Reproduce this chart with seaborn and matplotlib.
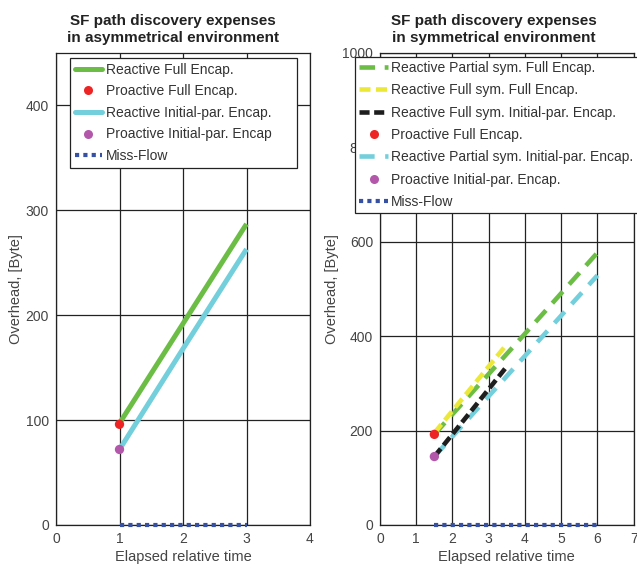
import matplotlib
matplotlib.use("Agg")
import matplotlib.pyplot as plt
import seaborn as sns
import pandas as pd
from matplotlib.lines import Line2D

sns.set_theme(style="white")
plt.rcParams['font.family'] = ['Liberation Sans', 'DejaVu Sans']

# ---------------- data: asymmetrical environment ----------------
asym_time = [1, 2, 3]
asym_reactive_full = [97, 192, 287]
asym_reactive_init = [72, 168, 263]
asym_proactive_time = [1]
asym_proactive_full = [96]
asym_proactive_init = [72]
asym_missflow_time = [1, 3]
asym_missflow = [0, 0]

# ---------------- data: symmetrical environment ----------------
sym_partial_time = [1.5, 3, 4.5, 6]
sym_partial_full = [192, 320, 448, 577]
sym_partial_init = [145, 273, 401, 529]
sym_full_time = [1.5, 2.5, 3.5]
sym_full_full = [195, 289, 383]
sym_full_init = [145, 240, 336]
sym_proactive_time = [1.5]
sym_proactive_full = [192]
sym_proactive_init = [145]
sym_missflow_time = [1.5, 6]
sym_missflow = [0, 0]

GREEN = "#6cbd45"
CYAN = "#72cfdb"
YELLOW = "#ece83a"
BLACK = "#1e1e1e"
RED = "#ee2424"
MAGENTA = "#b357ab"
BLUE = "#3650a3"
TICKC = "#444444"

fig = plt.figure(figsize=(6.37, 5.69), dpi=100)
ax1 = fig.add_axes([56/637, 1-525/569, 254/637, 472/569])
ax2 = fig.add_axes([380/637, 1-525/569, 253.7/637, 472/569])

LW = 3.3
dash_green = (0, (3.4, 2.1))
dash_cyan = (0, (3.3, 2.3))
dash_yellow = (0, (2.4, 1.2))
dash_black = (0, (2.2, 1.0))
dot_blue = (0, (1.0, 1.0))


def line(ax, x, y, color, ls, lw=LW, clip=True):
    df = pd.DataFrame({"x": x, "y": y})
    sns.lineplot(data=df, x="x", y="y", ax=ax, color=color, linewidth=lw,
                 linestyle=ls, solid_capstyle="butt", dash_capstyle="butt",
                 legend=False, zorder=3, clip_on=clip)


def pts(ax, x, y, color):
    df = pd.DataFrame({"x": x, "y": y})
    sns.scatterplot(data=df, x="x", y="y", ax=ax, color=color, s=45,
                    edgecolor="none", legend=False, zorder=4, clip_on=False)


# left panel
line(ax1, asym_time, asym_reactive_full, GREEN, "-", lw=3.6)
line(ax1, asym_time, asym_reactive_init, CYAN, "-", lw=3.6)
line(ax1, asym_missflow_time, asym_missflow, BLUE, dot_blue, lw=3.0, clip=False)
pts(ax1, asym_proactive_time, asym_proactive_full, RED)
pts(ax1, asym_proactive_time, asym_proactive_init, MAGENTA)

# right panel
line(ax2, sym_partial_time, sym_partial_full, GREEN, dash_green)
line(ax2, sym_partial_time, sym_partial_init, CYAN, dash_cyan)
line(ax2, sym_full_time, sym_full_full, YELLOW, dash_yellow)
line(ax2, sym_full_time, sym_full_init, BLACK, dash_black)
line(ax2, sym_missflow_time, sym_missflow, BLUE, dot_blue, lw=3.0, clip=False)
pts(ax2, sym_proactive_time, sym_proactive_full, RED)
pts(ax2, sym_proactive_time, sym_proactive_init, MAGENTA)

ax1.set_xlim(0, 4)
ax1.set_ylim(0, 450)
ax1.set_xticks([0, 1, 2, 3, 4])
ax1.set_yticks([0, 100, 200, 300, 400])
ax2.set_xlim(0, 7)
ax2.set_ylim(0, 1000)
ax2.set_xticks(range(8))
ax2.set_yticks([0, 200, 400, 600, 800, 1000])

panels = [(ax1, "SF path discovery expenses\nin asymmetrical environment", 0.46, -0.128),
          (ax2, "SF path discovery expenses\nin symmetrical environment", 0.45, -0.160)]
for ax, title, tx, lx in panels:
    ax.grid(True, color="#222222", linewidth=0.9)
    ax.set_axisbelow(True)
    for s in ax.spines.values():
        s.set_color("#222222")
        s.set_linewidth(0.9)
    ax.tick_params(axis="both", labelsize=10, colors=TICKC, length=0, pad=5)
    ax.set_xlabel("Elapsed relative time", fontsize=10.5, color=TICKC, labelpad=3)
    ax.set_ylabel("Overhead, [Byte]", fontsize=10.5, color=TICKC)
    ax.yaxis.set_label_coords(lx, 0.5)
    ax.set_title(title, fontsize=11, fontweight="bold", color="#222222",
                 pad=8, linespacing=1.25, x=tx)

# legends
h_left = [
    Line2D([], [], color=GREEN, lw=3.6),
    Line2D([], [], color=RED, marker="o", ls="none", markersize=6.5, markeredgewidth=0),
    Line2D([], [], color=CYAN, lw=3.6),
    Line2D([], [], color=MAGENTA, marker="o", ls="none", markersize=6.5, markeredgewidth=0),
    Line2D([], [], color=BLUE, lw=3.0, ls=dot_blue, dash_capstyle="butt"),
]
l_left = ["Reactive Full Encap.", "Proactive Full Encap.",
          "Reactive Initial-par. Encap.", "Proactive Initial-par. Encap",
          "Miss-Flow"]
leg1 = ax1.legend(h_left, l_left, loc="upper left", bbox_to_anchor=(0.055, 0.0, 0.894, 0.99),
                  mode="expand",
                  fontsize=10, frameon=True, fancybox=False, framealpha=1,
                  edgecolor="#222222", handlelength=1.95, handletextpad=0.3,
                  labelspacing=0.55, borderpad=0.35, borderaxespad=0)
leg1.get_frame().set_linewidth(0.9)
for t in leg1.get_texts():
    t.set_color("#333333")

h_right = [
    Line2D([], [], color=GREEN, lw=3.3, ls=dash_green, dash_capstyle="butt"),
    Line2D([], [], color=YELLOW, lw=3.3, ls=dash_yellow, dash_capstyle="butt"),
    Line2D([], [], color=BLACK, lw=3.3, ls=dash_black, dash_capstyle="butt"),
    Line2D([], [], color=RED, marker="o", ls="none", markersize=6.5, markeredgewidth=0),
    Line2D([], [], color=CYAN, lw=3.3, ls=dash_cyan, dash_capstyle="butt"),
    Line2D([], [], color=MAGENTA, marker="o", ls="none", markersize=6.5, markeredgewidth=0),
    Line2D([], [], color=BLUE, lw=3.0, ls=dot_blue, dash_capstyle="butt"),
]
l_right = ["Reactive Partial sym. Full Encap.", "Reactive Full sym. Full Encap.",
           "Reactive Full sym. Initial-par. Encap.", "Proactive Full Encap.",
           "Reactive Partial sym. Initial-par. Encap.", "Proactive Initial-par. Encap.",
           "Miss-Flow"]
leg2 = ax2.legend(h_right, l_right, loc="upper left", bbox_to_anchor=(-0.098, 0.992),
                  fontsize=10, frameon=True, fancybox=False, framealpha=1,
                  edgecolor="#222222", handlelength=2.1, handletextpad=0.2,
                  labelspacing=0.6, borderpad=0.3, borderaxespad=0)
leg2.get_frame().set_linewidth(0.9)
for t in leg2.get_texts():
    t.set_color("#333333")

fig.savefig("out.png", dpi=100)
